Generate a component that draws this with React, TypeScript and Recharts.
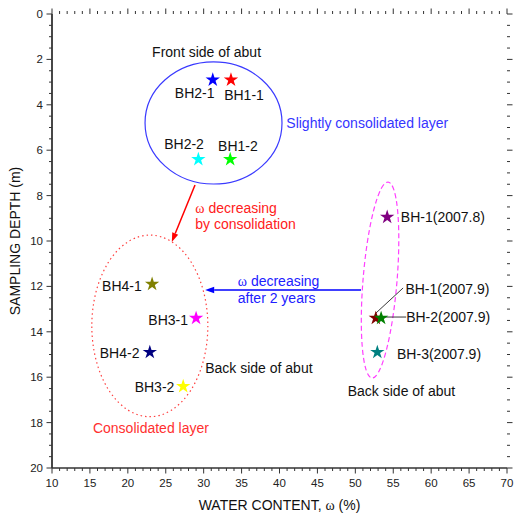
import {
  ScatterChart,
  Scatter,
  XAxis,
  YAxis,
  ZAxis,
  Cell,
  ReferenceArea,
  ReferenceLine,
  ReferenceDot,
} from "recharts";

// samples (water content %, sampling depth m)
const sampleNames = [
  "BH1-1",
  "BH1-2",
  "BH2-1",
  "BH2-2",
  "BH3-1",
  "BH3-2",
  "BH4-1",
  "BH4-2",
  "BH-1(2007.8)",
  "BH-1(2007.9)",
  "BH-2(2007.9)",
  "BH-3(2007.9)",
];
const waterContent = [33.6, 33.5, 31.2, 29.3, 29.0, 27.3, 23.2, 22.9, 54.2, 52.7, 53.4, 52.9];
const samplingDepth = [2.9, 6.4, 2.9, 6.4, 13.4, 16.4, 11.9, 14.9, 8.95, 13.4, 13.4, 14.9];
const sampleColors = [
  "#ff0000",
  "#00ff00",
  "#0000ff",
  "#00ffff",
  "#ff00ff",
  "#ffff00",
  "#808000",
  "#000080",
  "#800080",
  "#800000",
  "#008000",
  "#008080",
];

const xMajorTicks = [10, 15, 20, 25, 30, 35, 40, 45, 50, 55, 60, 65, 70];
const yMajorTicks = [0, 2, 4, 6, 8, 10, 12, 14, 16, 18, 20];
const xMinorStep = 1;
const yMinorStep = 0.5;

// annotation texts, placed in data coordinates (left edge, vertical centre)
const noteTexts = [
  "Front side of abut",
  "BH2-1",
  "BH1-1",
  "BH2-2",
  "BH1-2",
  "Slightly consolidated layer",
  "ω| decreasing",
  "by consolidation",
  "BH-1(2007.8)",
  "BH4-1",
  "BH3-1",
  "BH4-2",
  "Back side of abut",
  "BH3-2",
  "Consolidated layer",
  "ω| decreasing",
  "after 2 years",
  "BH-1(2007.9)",
  "BH-2(2007.9)",
  "BH-3(2007.9)",
  "Back side of abut",
];
const noteX = [23.2, 26.2, 32.7, 24.8, 31.9, 40.9, 28.9, 28.9, 56.0, 16.6, 22.7, 16.3, 30.2, 20.9, 15.4, 34.5, 34.5, 56.6, 56.7, 55.5, 49.0];
const noteY = [1.67, 3.48, 3.57, 5.73, 5.81, 4.8, 8.55, 9.27, 8.94, 11.98, 13.48, 14.93, 15.6, 16.43, 18.24, 11.76, 12.5, 12.11, 13.35, 14.97, 16.6];
const noteColors = [
  "#111", "#111", "#111", "#111", "#111", "#3535ff", "#ff2020", "#ff2020", "#111", "#111", "#111",
  "#111", "#111", "#111", "#ff3030", "#2020ff", "#2020ff", "#111", "#111", "#111", "#111",
];

// enclosing ellipses: centre, semi-axes (data units), tilt
const ellipseCx = [31.3, 22.9, 53.26];
const ellipseCy = [4.8, 13.74, 11.72];
const ellipseRx = [9.03, 7.65, 2.24];
const ellipseRy = [2.69, 4.0, 4.33];
const ellipseTilt = [0, 0, 4.7];
const ellipseColors = ["#3a3aff", "#ff4040", "#ff40ff"];
const ellipseDash = ["", "1.5 3", "5 3"];

// arrows (tail -> tip)
const arrowFrom = [
  { x: 28.86, y: 7.53 },
  { x: 50.75, y: 12.16 },
];
const arrowTo = [
  { x: 25.8, y: 10.04 },
  { x: 30.2, y: 12.16 },
];
const arrowColors = ["#ff0000", "#0000ff"];

// leader lines for overlapping points
const leaderFrom = [
  { x: 52.73, y: 13.17 },
  { x: 53.9, y: 13.35 },
];
const leaderTo = [
  { x: 56.3, y: 12.07 },
  { x: 56.7, y: 13.35 },
];

const FONT = "'Liberation Sans', Arial, sans-serif";
const AXIS = "#333";
const MINOR_LEN = 3;
const MAJOR_LEN = 5.5;

const points = sampleNames.map((name, i) => ({
  name,
  x: waterContent[i],
  y: samplingDepth[i],
}));

const xTicks = Array.from({ length: (70 - 10) / xMinorStep + 1 }, (_, i) => 10 + i * xMinorStep);
const yTicks = Array.from({ length: 20 / yMinorStep + 1 }, (_, i) => i * yMinorStep);

// tick labels only; tick marks are drawn with reference lines below
function BottomLabel(props: any) {
  const { x, y, payload } = props;
  if (!xMajorTicks.includes(payload.value)) return <g />;
  return (
    <text
      x={x}
      y={y + 15}
      textAnchor="middle"
      dominantBaseline="central"
      fontFamily={FONT}
      fontSize={11.5}
      fill="#222"
    >
      {payload.value}
    </text>
  );
}

function LeftLabel(props: any) {
  const { x, y, payload } = props;
  if (!yMajorTicks.includes(payload.value)) return <g />;
  return (
    <text
      x={x - 9}
      y={y}
      textAnchor="end"
      dominantBaseline="central"
      fontFamily={FONT}
      fontSize={11.5}
      fill="#222"
    >
      {payload.value}
    </text>
  );
}

// outward tick marks at both ends of a full-height / full-width reference line
function VerticalTicks(major: boolean) {
  return (props: any) => {
    const { x1, y1, y2 } = props;
    const len = major ? MAJOR_LEN : MINOR_LEN;
    const lo = Math.max(y1, y2);
    const hi = Math.min(y1, y2);
    return (
      <path
        d={`M${x1},${lo}V${lo + len}M${x1},${hi}V${hi - len}`}
        stroke={AXIS}
        strokeWidth={1}
        fill="none"
      />
    );
  };
}

function HorizontalTicks(major: boolean) {
  return (props: any) => {
    const { x1, x2, y1 } = props;
    const len = major ? MAJOR_LEN : MINOR_LEN;
    const l = Math.min(x1, x2);
    const r = Math.max(x1, x2);
    return (
      <path
        d={`M${l},${y1}H${l - len}M${r},${y1}H${r + len}`}
        stroke={AXIS}
        strokeWidth={1}
        fill="none"
      />
    );
  };
}

function XTitle(props: any) {
  const vb = props.viewBox;
  return (
    <text
      x={vb.x + vb.width / 2}
      y={vb.y + 37}
      textAnchor="middle"
      dominantBaseline="central"
      fontFamily={FONT}
      fontSize={14}
      fill="#111"
    >
      WATER CONTENT,{" "}
      <tspan fontFamily="'Liberation Serif', 'Times New Roman', serif">ω</tspan> (%)
    </text>
  );
}

function YTitle(props: any) {
  const vb = props.viewBox;
  const cx = vb.x + 15;
  const cy = vb.y + vb.height / 2;
  return (
    <text
      x={cx}
      y={cy}
      transform={`rotate(-90 ${cx} ${cy})`}
      textAnchor="middle"
      dominantBaseline="central"
      fontFamily={FONT}
      fontSize={14}
      fill="#111"
    >
      SAMPLING DEPTH (m)
    </text>
  );
}

function Arrow(color: string) {
  return (props: any) => {
    const { x1, y1, x2, y2 } = props;
    const dx = x2 - x1;
    const dy = y2 - y1;
    const len = Math.sqrt(dx * dx + dy * dy) || 1;
    const ux = dx / len;
    const uy = dy / len;
    const head = 9;
    const half = 3.2;
    const bx = x2 - ux * head;
    const by = y2 - uy * head;
    return (
      <g>
        <line x1={x1} y1={y1} x2={bx} y2={by} stroke={color} strokeWidth={1.5} />
        <polygon
          points={`${x2},${y2} ${bx - uy * half},${by + ux * half} ${bx + uy * half},${by - ux * half}`}
          fill={color}
        />
      </g>
    );
  };
}

function NoteText(text: string, color: string) {
  return (props: any) => {
    const { cx, cy } = props;
    const parts = text.split("|");
    return (
      <text
        x={cx}
        y={cy}
        dominantBaseline="central"
        fontFamily={FONT}
        fontSize={14}
        fill={color}
      >
        {parts.length > 1 ? (
          <>
            <tspan fontFamily="'Liberation Serif', 'Times New Roman', serif">{parts[0]}</tspan>
            {parts[1]}
          </>
        ) : (
          text
        )}
      </text>
    );
  };
}

export default function App() {
  return (
    <div style={{ position: "absolute", left: 0, top: 0, background: "#fff" }}>
      <ScatterChart
        width={514}
        height={514}
        margin={{ top: 14, right: 7, bottom: 0, left: 0 }}
      >
        <XAxis
          dataKey="x"
          type="number"
          domain={[10, 70]}
          ticks={xTicks}
          interval={0}
          tick={BottomLabel}
          tickLine={false}
          tickSize={0}
          tickMargin={0}
          height={46}
          axisLine={{ stroke: AXIS, strokeWidth: 1.5 }}
          allowDataOverflow
          label={XTitle}
        />
        <XAxis
          xAxisId="top"
          orientation="top"
          type="number"
          domain={[10, 70]}
          tick={false}
          tickLine={false}
          height={0}
          axisLine={{ stroke: AXIS, strokeWidth: 1.2 }}
          allowDataOverflow
        />
        <YAxis
          dataKey="y"
          type="number"
          domain={[0, 20]}
          reversed
          ticks={yTicks}
          interval={0}
          tick={LeftLabel}
          tickLine={false}
          tickSize={0}
          tickMargin={0}
          width={52}
          axisLine={{ stroke: AXIS, strokeWidth: 1.8 }}
          allowDataOverflow
          label={YTitle}
        />
        <YAxis
          yAxisId="right"
          orientation="right"
          type="number"
          domain={[0, 20]}
          reversed
          tick={false}
          tickLine={false}
          width={0}
          axisLine={{ stroke: AXIS, strokeWidth: 1.2 }}
          allowDataOverflow
        />
        <ZAxis range={[40, 40]} />

        {xTicks.map((v) => (
          <ReferenceLine
            key={`xt-${v}`}
            x={v}
            ifOverflow="visible"
            shape={VerticalTicks(xMajorTicks.includes(v))}
          />
        ))}
        {yTicks.map((v) => (
          <ReferenceLine
            key={`yt-${v}`}
            y={v}
            ifOverflow="visible"
            shape={HorizontalTicks(yMajorTicks.includes(v))}
          />
        ))}

        {ellipseCx.map((cx, i) => (
          <ReferenceArea
            key={`ell-${i}`}
            x1={cx - ellipseRx[i]}
            x2={cx + ellipseRx[i]}
            y1={ellipseCy[i] - ellipseRy[i]}
            y2={ellipseCy[i] + ellipseRy[i]}
            ifOverflow="visible"
            shape={(p: any) => {
              const ecx = p.x + p.width / 2;
              const ecy = p.y + p.height / 2;
              return (
                <ellipse
                  cx={ecx}
                  cy={ecy}
                  rx={Math.abs(p.width) / 2}
                  ry={Math.abs(p.height) / 2}
                  transform={`rotate(${ellipseTilt[i]} ${ecx} ${ecy})`}
                  fill="none"
                  stroke={ellipseColors[i]}
                  strokeWidth={1.2}
                  strokeDasharray={ellipseDash[i] || undefined}
                />
              );
            }}
          />
        ))}

        {arrowFrom.map((from, i) => (
          <ReferenceLine
            key={`arr-${i}`}
            segment={[from, arrowTo[i]]}
            ifOverflow="visible"
            shape={Arrow(arrowColors[i])}
          />
        ))}

        {leaderFrom.map((from, i) => (
          <ReferenceLine
            key={`lead-${i}`}
            segment={[from, leaderTo[i]]}
            stroke="#222"
            strokeWidth={0.9}
            ifOverflow="visible"
          />
        ))}

        <Scatter data={points} shape="star" isAnimationActive={false}>
          {points.map((p, i) => (
            <Cell key={p.name} fill={sampleColors[i]} />
          ))}
        </Scatter>

        {noteTexts.map((t, i) => (
          <ReferenceDot
            key={`note-${i}`}
            x={noteX[i]}
            y={noteY[i]}
            r={0}
            ifOverflow="visible"
            shape={NoteText(t, noteColors[i])}
          />
        ))}
      </ScatterChart>
    </div>
  );
}
